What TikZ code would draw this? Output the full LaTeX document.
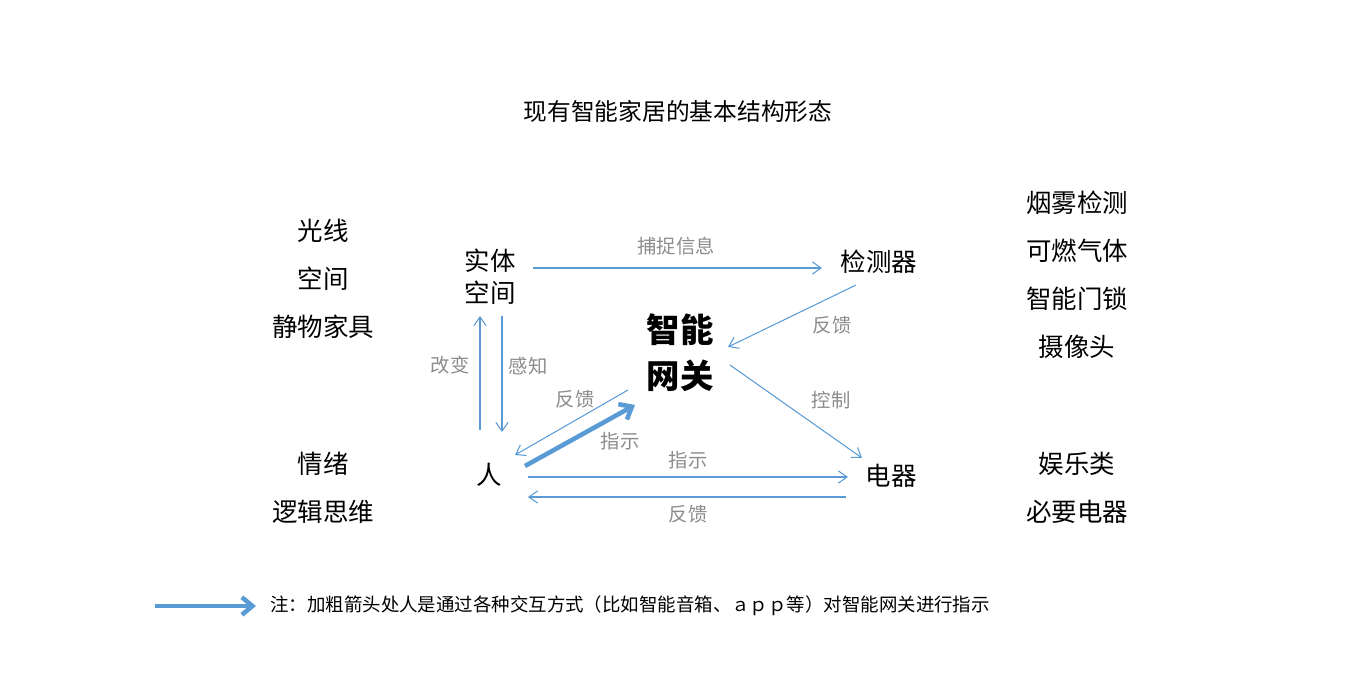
\documentclass[tikz,border=0pt]{standalone}
\usepackage{fontspec}
\setmainfont{Noto Sans CJK SC}
\usetikzlibrary{arrows.meta}
\definecolor{ln}{HTML}{5B9BD5}
\definecolor{lb}{HTML}{8C8C8C}
\begin{document}
\begin{tikzpicture}[x=0.02cm,y=-0.02cm,
  big/.style={font=\fontsize{14.5pt}{16pt}\selectfont,inner sep=0pt},
  lab/.style={font=\fontsize{11pt}{13pt}\selectfont,text=lb,inner sep=0pt},
  thin/.style={draw=ln,line width=0.6pt,-{Straight Barb[length=5pt,width=7pt]}},
  thick/.style={draw=ln,line width=2.6pt,-{Straight Barb[length=6pt,width=10pt]}}]
\useasboundingbox (0,0) rectangle (1360,680);
\node[big,font=\fontsize{13.5pt}{16pt}\selectfont] (title) at (678,111) {现有智能家居的基本结构形态};
% left
\node[big] (l1) at (323,231) {光线};
\node[big] (l2) at (323,279) {空间};
\node[big] (l3) at (323,327) {静物家具};
\node[big] (l4) at (323,464) {情绪};
\node[big] (l5) at (323,512) {逻辑思维};
% right
\node[big] (r1) at (1077,203) {烟雾检测};
\node[big] (r2) at (1077,251) {可燃气体};
\node[big] (r3) at (1077,299) {智能门锁};
\node[big] (r4) at (1077,347) {摄像头};
\node[big] (r5) at (1077,464) {娱乐类};
\node[big] (r6) at (1077,512) {必要电器};
% main nodes
\node[big,align=center,font=\fontsize{14.5pt}{18pt}\selectfont] (space) at (490,277) {实体\\空间};
\node[big] (det) at (879,262) {检测器};
\node[big,align=center,font=\fontsize{19pt}{26pt}\selectfont\bfseries] (gw) at (680,353) {智能\\网关};
\node[big] (man) at (489,475) {人};
\node[big] (app) at (891,476) {电器};
% anchors
\coordinate (a1) at (533,268); \coordinate (a2) at (822,268);
\coordinate (b1) at (856,285); \coordinate (b2) at (728,347);
\coordinate (c1) at (730,365); \coordinate (c2) at (862,458);
\coordinate (d1) at (480,430); \coordinate (d2) at (480,316);
\coordinate (e1) at (502,316); \coordinate (e2) at (502,432);
\coordinate (f1) at (628,390); \coordinate (f2) at (515,455);
\coordinate (g1) at (525,466); \coordinate (g2) at (635,405);
\coordinate (h1) at (528,477); \coordinate (h2) at (848,477);
\coordinate (i1) at (846,497); \coordinate (i2) at (528,497);
\coordinate (n1) at (155,606); \coordinate (n2) at (256,606);
\draw[thin] (a1) -- (a2);
\draw[thin] (b1) -- (b2);
\draw[thin] (c1) -- (c2);
\draw[thin] (d1) -- (d2);
\draw[thin] (e1) -- (e2);
\draw[thin] (f1) -- (f2);
\draw[thick] (g1) -- (g2);
\draw[thin] (h1) -- (h2);
\draw[thin] (i1) -- (i2);
\draw[thick] (n1) -- (n2);
\node[lab] (t1) at (676,246) {捕捉信息};
\node[lab] (t2) at (832,325) {反馈};
\node[lab] (t3) at (831,400) {控制};
\node[lab] (t4) at (450,365) {改变};
\node[lab] (t5) at (528,366) {感知};
\node[lab] (t6) at (575,399) {反馈};
\node[lab] (t7) at (620,441) {指示};
\node[lab] (t8) at (688,460) {指示};
\node[lab] (t9) at (688,514) {反馈};
\node[inner sep=0pt,anchor=west,font=\fontsize{10.5pt}{12pt}\selectfont] (note) at (270,606) {注：加粗箭头处人是通过各种交互方式（比如智能音箱、ａｐｐ等）对智能网关进行指示};
\end{tikzpicture}
\end{document}
